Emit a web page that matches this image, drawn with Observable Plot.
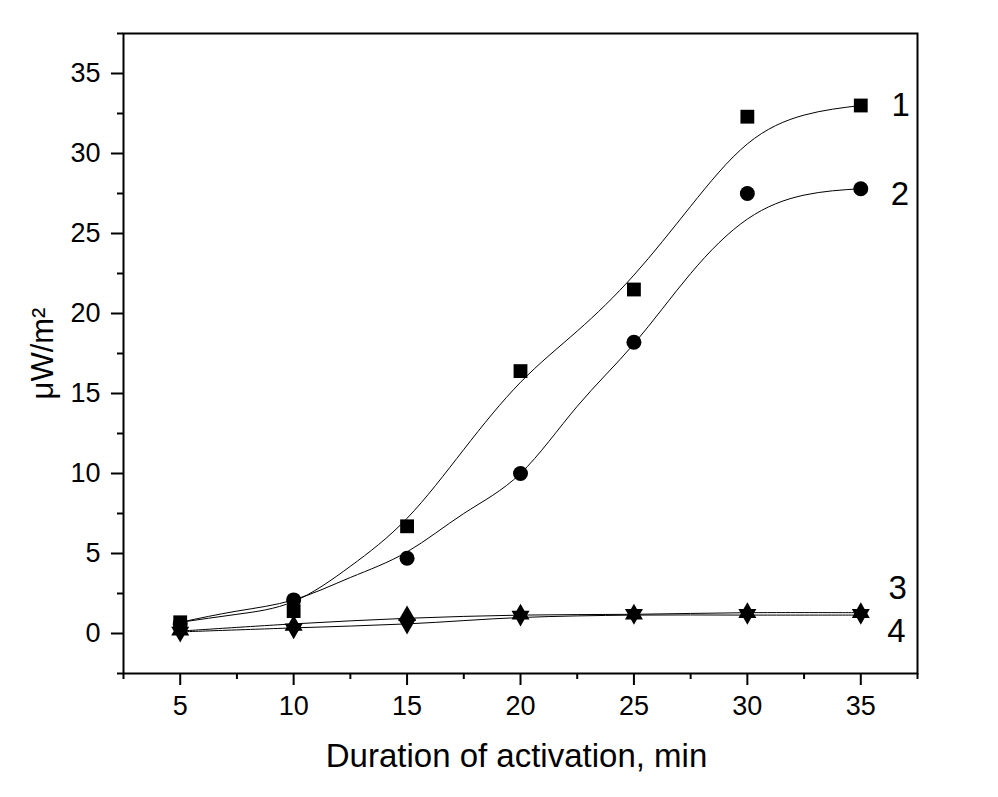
<!DOCTYPE html>
<html>
<head>
<meta charset="utf-8">
<script src="https://cdn.jsdelivr.net/npm/d3@7"></script>
<script src="https://cdn.jsdelivr.net/npm/@observablehq/plot@0.6"></script>
<style>
  html, body { margin: 0; padding: 0; background: white; }
</style>
</head>
<body>
<div id="chart"></div>
<script>
// Measured data points
const xs = [5, 10, 15, 20, 25, 30, 35];
const s1 = [0.7, 1.4, 6.7, 16.4, 21.5, 32.3, 33.0];   // squares
const s2 = [0.6, 2.1, 4.7, 10.0, 18.2, 27.5, 27.8];   // circles
const s3 = [0.2, 0.5, 1.1, 1.2, 1.2, 1.3, 1.3];       // up triangles
const s4 = [0.1, 0.3, 0.6, 1.1, 1.2, 1.2, 1.2];       // down triangles

// Fitted curves
const fitX = [5, 7.5, 10, 12.5, 15, 17.5, 20, 22.5, 25, 27.5, 30, 32.5, 35];
const fit1 = [0.7, 1.2, 2.0, 4.2, 7.2, 11.5, 15.7, 18.9, 22.4, 26.7, 30.6, 32.4, 33.0];
const fit2 = [0.7, 1.4, 2.1, 3.5, 5.1, 7.5, 10.0, 14.2, 18.1, 22.5, 25.9, 27.4, 27.8];
const fit3 = [0.15, 0.6, 0.95, 1.15, 1.2, 1.3, 1.3];
const fit4 = [0.1, 0.35, 0.6, 1.0, 1.15, 1.15, 1.15];

// Axis ticks
const xTicks = [5, 10, 15, 20, 25, 30, 35];
const xMinor = [2.5, 7.5, 12.5, 17.5, 22.5, 27.5, 32.5, 37.5];
const yTicks = [0, 5, 10, 15, 20, 25, 30, 35];
const yMinor = [-2.5, 2.5, 7.5, 12.5, 17.5, 22.5, 27.5, 32.5, 37.5];

// Curve labels
const labelText = ["1", "2", "3", "4"];
const labelX = [36.76, 36.72, 36.63, 36.57];
const labelY = [32.98, 27.45, 2.83, 0.15];

const xLabel = "Duration of activation, min";
const yLabel = "μW/m²";

const triUp = { draw(ctx) { ctx.moveTo(0, -10.5); ctx.lineTo(9, 5.2); ctx.lineTo(-9, 5.2); ctx.closePath(); } };
const triDown = { draw(ctx) { ctx.moveTo(0, 10.5); ctx.lineTo(9, -5.2); ctx.lineTo(-9, -5.2); ctx.closePath(); } };

const pts = (ys) => xs.map((x, i) => ({ x, y: ys[i] }));
const fitPts = (xx, ys) => xx.map((x, i) => ({ x, y: ys[i] }));
const labels = labelText.map((t, i) => ({ t, x: labelX[i], y: labelY[i] }));

const font = "'Liberation Sans', Arial, sans-serif";

const chart = Plot.plot({
  width: 998,
  height: 797,
  marginLeft: 123,
  marginRight: 81,
  marginTop: 33,
  marginBottom: 124,
  style: { fontFamily: font, background: "white", color: "black" },
  x: { domain: [2.5, 37.5], label: null },
  y: { domain: [-2.5, 37.5], label: null },
  marks: [
    Plot.axisX({ ticks: xMinor, tickSize: 6, tickFormat: () => "", strokeWidth: 2, label: null }),
    Plot.axisX({ ticks: xTicks, tickSize: 12, tickFormat: () => "", strokeWidth: 2, label: null }),
    Plot.axisY({ ticks: yMinor, tickSize: 6, tickFormat: () => "", strokeWidth: 2, label: null }),
    Plot.axisY({ ticks: yTicks, tickSize: 12, tickFormat: () => "", strokeWidth: 2, label: null }),
    Plot.text(xTicks, { x: d => d, text: d => String(d), frameAnchor: "bottom", lineAnchor: "top", dy: 22, fontSize: 27, fill: "black" }),
    Plot.text(yTicks, { y: d => d, text: d => String(d), frameAnchor: "left", textAnchor: "end", lineAnchor: "middle", dx: -23, fontSize: 27, fill: "black" }),
    Plot.line(fitPts(fitX, fit1), { x: "x", y: "y", curve: "natural", stroke: "black", strokeWidth: 1 }),
    Plot.line(fitPts(fitX, fit2), { x: "x", y: "y", curve: "natural", stroke: "black", strokeWidth: 1 }),
    Plot.line(fitPts(xs, fit3), { x: "x", y: "y", curve: "catmull-rom", stroke: "black", strokeWidth: 1 }),
    Plot.line(fitPts(xs, fit4), { x: "x", y: "y", curve: "catmull-rom", stroke: "black", strokeWidth: 1 }),
    Plot.dot(pts(s2), { x: "x", y: "y", symbol: "circle", r: 7.5, fill: "black", stroke: "none" }),
    Plot.dot(pts(s1), { x: "x", y: "y", symbol: "square", r: 7.8, fill: "black", stroke: "none" }),
    Plot.dot(pts(s3), { x: "x", y: "y", symbol: triUp, fill: "black", stroke: "none" }),
    Plot.dot(pts(s4), { x: "x", y: "y", symbol: triDown, fill: "black", stroke: "none" }),
    Plot.text(labels, { x: "x", y: "y", text: "t", fontSize: 33, fill: "black" }),
    Plot.text([xLabel], { frameAnchor: "bottom", dy: 83, dx: -4, text: d => d, fontSize: 33, fill: "black", lineAnchor: "middle", textAnchor: "middle" }),
    Plot.text([yLabel], { frameAnchor: "left", dx: -80, rotate: -90, text: d => d, fontSize: 31, fill: "black", lineAnchor: "middle", textAnchor: "middle" }),
    Plot.frame({ stroke: "black", strokeWidth: 2 })
  ]
});
document.getElementById("chart").appendChild(chart);
</script>
</body>
</html>
